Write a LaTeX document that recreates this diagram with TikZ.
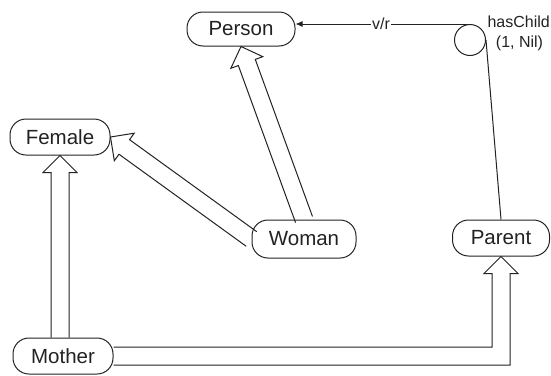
\documentclass[tikz,border=0pt]{standalone}
\usepackage{fontspec}
\setmainfont{Liberation Sans}
\usetikzlibrary{calc,arrows.meta}
\definecolor{ink}{HTML}{222222}
\tikzset{
  cls/.style={draw=ink, line width=1pt, rounded corners=16pt, minimum height=36pt,
    inner sep=0pt, font=\fontsize{20.5}{24}\selectfont, text=ink},
  blk/.style={draw=ink, line width=1pt, line join=miter},
  lbl/.style={font=\fontsize{16}{19}\selectfont, text=ink, inner sep=1pt},
  rel/.style={draw=ink, line width=1pt},
}
\newcommand\blockarr[2]{%
  \coordinate (bs) at (#1);
  \coordinate (bt) at (#2);
  \coordinate (bb) at ($(bt)!17pt!(bs)$);
  \draw[blk] ($(bs)!9pt!90:(bt)$) -- ($(bb)!9pt!-90:(bs)$) -- ($(bb)!17pt!-90:(bs)$)
    -- (bt) -- ($(bb)!17pt!90:(bs)$) -- ($(bb)!9pt!90:(bs)$) -- ($(bs)!9pt!-90:(bt)$);
}
\begin{document}
\begin{tikzpicture}[x=1pt,y=-1pt]
\useasboundingbox (0,0) rectangle (551,375);
\node[cls, minimum width=108pt, minimum height=34pt] (person) at (241,29) {Person};
\node[cls, minimum width=100pt] (female) at (60,137) {Female};
\node[cls, minimum width=104pt, minimum height=38pt] (woman) at (304,239) {Woman};
\node[cls, minimum width=97pt] (parent) at (501,238) {Parent};
\node[cls, minimum width=100pt] (mother) at (63,356) {Mother};
\node[draw=ink, line width=1pt, circle, minimum size=31pt, inner sep=0pt] (hc) at (470,40) {};
\node[lbl, anchor=east] (hcl) at (551,21.5) {hasChild};
\node[lbl] (card) at (519.5,43.5) {(1, Nil)};

\draw[rel, -{Latex[length=7pt,width=6pt]}] (hc.north) -- (person.east |- hc.north)
  node[pos=0.51, lbl, fill=white] (vr) {v/r};
\draw[rel] (hc.east) -- (parent.north);

\blockarr{woman.north}{person.south}
\blockarr{woman.west}{female.east}
\blockarr{female.south |- mother.north}{female.south}

\coordinate (pc) at (parent.south |- mother.east);
\draw[blk] ($(mother.east)+(0,9)$) -- ($(pc)+(9,9)$) -- ($(parent.south)+(9,17)$)
  -- ($(parent.south)+(17,17)$) -- (parent.south) -- ($(parent.south)+(-17,17)$)
  -- ($(parent.south)+(-9,17)$) -- ($(pc)+(-9,-9)$) -- ($(mother.east)+(0,-9)$);
\end{tikzpicture}
\end{document}
